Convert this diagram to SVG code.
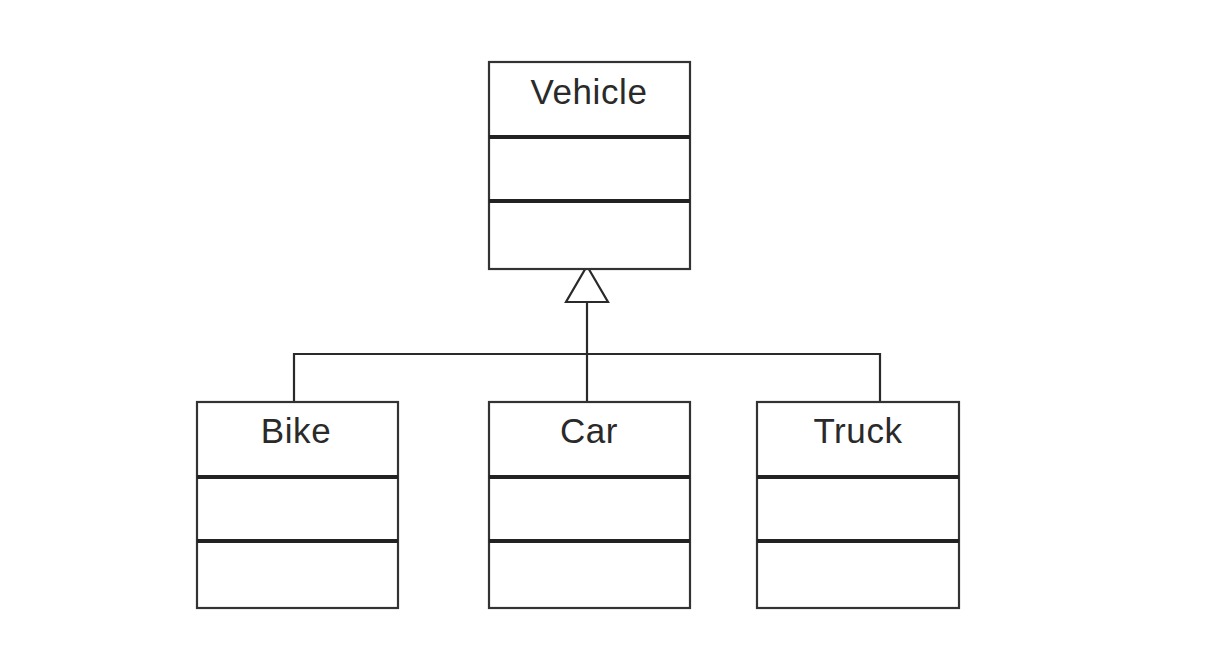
<svg xmlns="http://www.w3.org/2000/svg" width="1226" height="646" viewBox="0 0 1226 646">
  <style>
    .box { fill: #ffffff; stroke: #333333; stroke-width: 2.2; }
    .div { stroke: #222222; stroke-width: 4; }
    .name { font-family: "Liberation Sans", Arial, sans-serif; font-size: 35px; letter-spacing: 0.6px; fill: #2a2a2a; text-anchor: middle; }
    .conn { fill: none; stroke: #2a2a2a; stroke-width: 2.2; }
  </style>
  <rect width="1226" height="646" fill="#ffffff"/>

  <g id="connectors">
    <polyline class="conn" points="294,402 294,354 880,354 880,402"/>
    <line class="conn" x1="587" y1="302" x2="587" y2="402"/>
    <polygon class="conn" fill="#ffffff" points="587,266 608,302 566,302"/>
  </g>

  <g id="vehicle">
    <rect class="box" x="489" y="62" width="201" height="207"/>
    <line class="div" x1="489" y1="137" x2="690" y2="137"/>
    <line class="div" x1="489" y1="201" x2="690" y2="201"/>
    <text class="name" x="589" y="104">Vehicle</text>
  </g>

  <g id="bike">
    <rect class="box" x="197" y="402" width="201" height="206"/>
    <line class="div" x1="197" y1="477" x2="398" y2="477"/>
    <line class="div" x1="197" y1="541" x2="398" y2="541"/>
    <text class="name" x="296" y="443">Bike</text>
  </g>

  <g id="car">
    <rect class="box" x="489" y="402" width="201" height="206"/>
    <line class="div" x1="489" y1="477" x2="690" y2="477"/>
    <line class="div" x1="489" y1="541" x2="690" y2="541"/>
    <text class="name" x="589" y="443">Car</text>
  </g>

  <g id="truck">
    <rect class="box" x="757" y="402" width="202" height="206"/>
    <line class="div" x1="757" y1="477" x2="959" y2="477"/>
    <line class="div" x1="757" y1="541" x2="959" y2="541"/>
    <text class="name" x="858" y="443">Truck</text>
  </g>
</svg>
